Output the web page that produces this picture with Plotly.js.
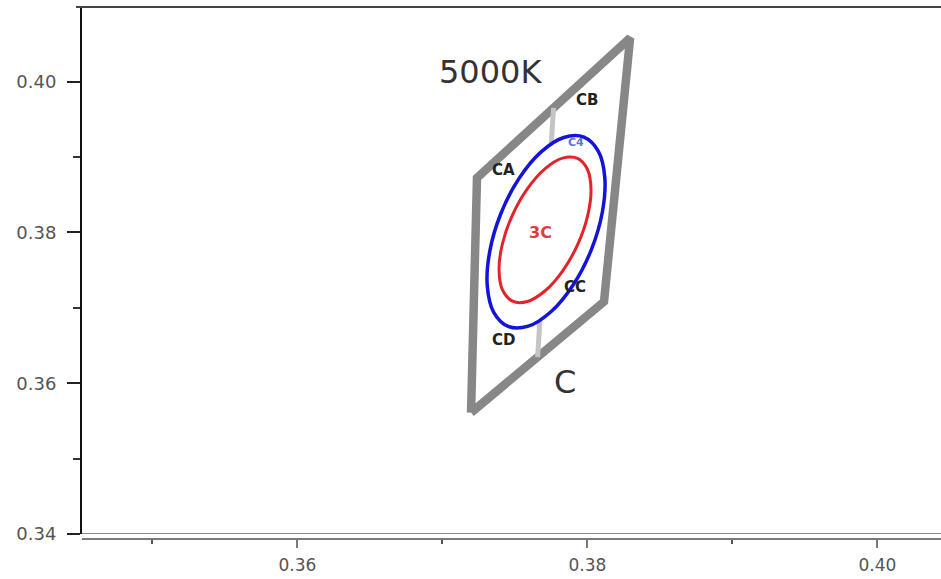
<!DOCTYPE html>
<html>
<head>
<meta charset="utf-8">
<script src="https://cdn.plot.ly/plotly-3.0.1.min.js"></script>
<style>html,body{margin:0;padding:0;background:#fff;}#chart{width:941px;height:579px;}</style>
</head>
<body>
<div id="chart"></div>
<script>
// Quadrangle (bin C, 5000K) outline: BL, TL, TR, BR, back to BL
var quadX = [0.37198, 0.37239, 0.38295, 0.38115, 0.37198];
var quadY = [0.35610, 0.38724, 0.40579, 0.37081, 0.35610];
// Light divider line inside quadrangle
var dividerX = [0.37767, 0.37657];
var dividerY = [0.39651, 0.36345];
// Blue ellipse outline
var blueX = [0.379765, 0.380760, 0.381205, 0.381033, 0.380271, 0.379033, 0.377510, 0.375932, 0.374540, 0.373544, 0.373099, 0.373271, 0.374033, 0.375270, 0.376794, 0.378372, 0.379765];
var blueY = [0.392632, 0.390759, 0.387261, 0.382671, 0.377685, 0.373065, 0.369514, 0.367571, 0.367533, 0.369405, 0.372903, 0.377493, 0.382479, 0.387099, 0.390650, 0.392593, 0.392632];
// Red ellipse outline
var redX = [0.379320, 0.380010, 0.380254, 0.380016, 0.379331, 0.378304, 0.377092, 0.375877, 0.374846, 0.374156, 0.373912, 0.374150, 0.374835, 0.375862, 0.377075, 0.378289, 0.379320];
var redY = [0.389820, 0.388349, 0.385659, 0.382162, 0.378387, 0.374912, 0.372263, 0.370845, 0.370874, 0.372345, 0.375035, 0.378532, 0.382307, 0.385782, 0.388431, 0.389849, 0.389820];
// Text labels
var bigLabels = ["5000K", "C"];
var bigX = [0.37329, 0.37846];
var bigY = [0.40128, 0.36021];
var binLabels = ["CA", "CB", "CC", "CD"];
var binX = [0.37419, 0.37998, 0.37915, 0.37419];
var binY = [0.38830, 0.39757, 0.37279, 0.36577];
var redLabel = ["3C"];
var redLabelX = [0.37674];
var redLabelY = [0.37995];
var blueLabel = ["C4"];
var blueLabelX = [0.37922];
var blueLabelY = [0.39190];
// Axis ticks
var xTicks = [0.36, 0.38, 0.40];
var xTickText = ["0.36", "0.38", "0.40"];
var yTicks = [0.34, 0.36, 0.38, 0.40];
var yTickText = ["0.34", "0.36", "0.38", "0.40"];

var traces = [
  {x: quadX, y: quadY, mode: 'lines', line: {color: '#878787', width: 8.5}, hoverinfo: 'skip'},
  {x: dividerX, y: dividerY, mode: 'lines', line: {color: '#c4c4c4', width: 5}, hoverinfo: 'skip'},
  {x: blueX, y: blueY, mode: 'lines', fill: 'toself', fillcolor: '#ffffff', line: {color: '#1414d8', width: 3.5, shape: 'spline', smoothing: 1}, hoverinfo: 'skip'},
  {x: redX, y: redY, mode: 'lines', fill: 'toself', fillcolor: '#ffffff', line: {color: '#e3232a', width: 3, shape: 'spline', smoothing: 1}, hoverinfo: 'skip'}
];

var annotations = [];
bigLabels.forEach(function(t, i) {
  annotations.push({x: bigX[i], y: bigY[i], xref: 'x', yref: 'y', text: t, showarrow: false,
    font: {family: 'DejaVu Sans', size: 32, color: '#333333'}});
});
binLabels.forEach(function(t, i) {
  annotations.push({x: binX[i], y: binY[i], xref: 'x', yref: 'y', text: '<b>' + t + '</b>', showarrow: false,
    font: {family: 'DejaVu Sans', size: 15, color: '#222222'}});
});
annotations.push({x: redLabelX[0], y: redLabelY[0], xref: 'x', yref: 'y', text: '<b>' + redLabel[0] + '</b>', showarrow: false,
  font: {family: 'DejaVu Sans', size: 16, color: '#e0393e'}});
annotations.push({x: blueLabelX[0], y: blueLabelY[0], xref: 'x', yref: 'y', text: '<b>' + blueLabel[0] + '</b>', showarrow: false,
  font: {family: 'DejaVu Sans', size: 11, color: '#5a78d0'}});

var layout = {
  width: 941, height: 579,
  margin: {l: 82, r: 0, t: 7, b: 40},
  paper_bgcolor: '#ffffff', plot_bgcolor: '#ffffff',
  showlegend: false,
  xaxis: {
    range: [0.34515, 0.40439], anchor: 'free', position: 0,
    showgrid: false, zeroline: false,
    showline: true, linecolor: '#7a7a7a', linewidth: 2,
    ticks: 'outside', ticklen: 8, tickwidth: 2, tickcolor: '#7a7a7a',
    tickvals: xTicks, ticktext: xTickText, ticklabelstandoff: 3,
    minor: {ticks: 'outside', ticklen: 4, tickwidth: 2, tickcolor: '#555555', dtick: 0.01, tick0: 0.35},
    tickfont: {family: 'DejaVu Sans', size: 17, color: '#555555'}
  },
  yaxis: {
    range: [0.34, 0.4099], domain: [5/532, 1],
    showgrid: false, zeroline: false,
    showline: true, linecolor: '#111111', linewidth: 2,
    ticks: 'outside', ticklen: 13, tickwidth: 2, tickcolor: '#222222',
    tickvals: yTicks, ticktext: yTickText, ticklabelstandoff: 7,
    minor: {ticks: 'outside', ticklen: 7, tickwidth: 2, tickcolor: '#333333', dtick: 0.01, tick0: 0.34},
    tickfont: {family: 'DejaVu Sans', size: 18, color: '#555555'}
  },
  shapes: [
    {type: 'line', xref: 'paper', yref: 'y', x0: 0, x1: 1, y0: 0.34, y1: 0.34, line: {color: '#8a8a8a', width: 2}},
    {type: 'line', xref: 'paper', yref: 'paper', x0: -0.007, x1: 1, y0: 1, y1: 1, line: {color: '#444444', width: 2}}
  ],
  annotations: annotations
};

Plotly.newPlot('chart', traces, layout, {displayModeBar: false, staticPlot: true});
</script>
</body>
</html>
